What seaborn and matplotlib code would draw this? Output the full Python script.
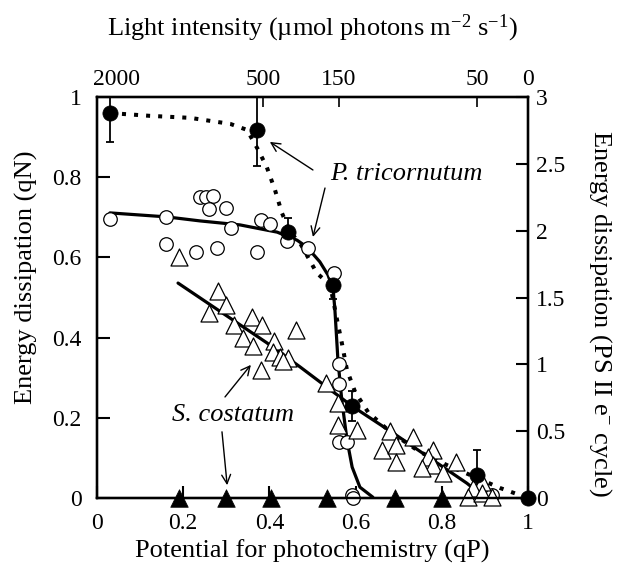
import matplotlib
matplotlib.use("Agg")
import matplotlib.pyplot as plt
import seaborn as sns
import pandas as pd

# ---- data ----
qp_filled = [0.030, 0.371, 0.443, 0.548, 0.592, 0.882, 1.0]
qn_filled = [0.960, 0.918, 0.663, 0.531, 0.229, 0.057, 0.0]
err_filled = [0.072, 0.090, 0.035, 0.035, 0.037, 0.063, 0.0]

qp_open = [0.030, 0.160, 0.160, 0.230, 0.278, 0.239, 0.253, 0.269, 0.260, 0.299, 0.311,
           0.371, 0.380, 0.401, 0.441, 0.490, 0.550, 0.561, 0.561, 0.561, 0.580, 0.592,
           0.594, 0.917]
qn_open = [0.696, 0.701, 0.633, 0.613, 0.623, 0.751, 0.751, 0.753, 0.721, 0.723, 0.673,
           0.613, 0.693, 0.683, 0.641, 0.623, 0.561, 0.334, 0.284, 0.140, 0.140, 0.007,
           0.0, 0.007]

qp_tri = [0.190, 0.281, 0.299, 0.260, 0.360, 0.383, 0.318, 0.462, 0.339, 0.411, 0.362,
          0.408, 0.425, 0.443, 0.432, 0.381, 0.531, 0.559, 0.559, 0.603, 0.680, 0.733,
          0.661, 0.694, 0.694, 0.780, 0.768, 0.780, 0.754, 0.803, 0.833, 0.893, 0.872,
          0.861, 0.893, 0.916]
qn_tri = [0.601, 0.516, 0.481, 0.461, 0.451, 0.431, 0.431, 0.419, 0.399, 0.392, 0.379,
          0.364, 0.352, 0.349, 0.342, 0.319, 0.287, 0.237, 0.182, 0.170, 0.167, 0.152,
          0.120, 0.132, 0.090, 0.120, 0.102, 0.082, 0.075, 0.062, 0.090, 0.040, 0.025,
          0.002, 0.012, 0.002]

qp_ftri = [0.190, 0.299, 0.404, 0.534, 0.691, 0.800]
qn_ftri = [0.0, 0.0, 0.0, 0.0, 0.0, 0.0]

# fitted curves
fit_dot_x = [0.030, 0.123, 0.216, 0.309, 0.348, 0.374, 0.394, 0.413, 0.429, 0.448, 0.471,
             0.510, 0.541, 0.557, 0.568, 0.580, 0.599, 0.629, 0.680, 0.749, 0.812, 0.882,
             0.935, 1.0]
fit_dot_y = [0.960, 0.953, 0.948, 0.933, 0.918, 0.868, 0.825, 0.768, 0.711, 0.663, 0.636,
             0.561, 0.531, 0.444, 0.387, 0.319, 0.264, 0.214, 0.165, 0.115, 0.082, 0.050,
             0.025, 0.0]

fit_pt_x = [0.030, 0.162, 0.239, 0.332, 0.418, 0.464, 0.487, 0.517, 0.536, 0.548, 0.552,
            0.559, 0.568, 0.580, 0.592, 0.610, 0.640]
fit_pt_y = [0.711, 0.701, 0.691, 0.681, 0.663, 0.643, 0.626, 0.589, 0.556, 0.519, 0.469,
            0.344, 0.244, 0.145, 0.077, 0.027, 0.002]

fit_sc_x = [0.188, 0.394, 0.471, 0.592, 0.687, 0.858, 0.893]
fit_sc_y = [0.536, 0.387, 0.327, 0.229, 0.162, 0.037, 0.007]

light_labels = ["2000", "500", "150", "50", "0"]
light_pos = [0.046, 0.385, 0.561, 0.882, 1.0]

x_ticks = [0, 0.2, 0.4, 0.6, 0.8, 1.0]
x_ticklabels = ["0", "0.2", "0.4", "0.6", "0.8", "1"]
y_ticks = [0, 0.2, 0.4, 0.6, 0.8, 1.0]
y_ticklabels = ["0", "0.2", "0.4", "0.6", "0.8", "1"]
y2_ticks = [0, 0.5, 1.0, 1.5, 2.0, 2.5, 3.0]
y2_ticklabels = ["0", "0.5", "1", "1.5", "2", "2.5", "3"]

# ---- style ----
sns.set_theme(style="ticks")
plt.rcParams["font.family"] = ["Liberation Serif", "DejaVu Serif"]
plt.rcParams["mathtext.fontset"] = "custom"
plt.rcParams["mathtext.rm"] = "Liberation Serif"
plt.rcParams["mathtext.it"] = "Liberation Serif:italic"
plt.rcParams["text.color"] = "black"
plt.rcParams["axes.labelcolor"] = "black"
plt.rcParams["xtick.color"] = "black"
plt.rcParams["ytick.color"] = "black"
plt.rcParams["axes.edgecolor"] = "black"
FS = 17
LFS = 19

fig = plt.figure(figsize=(6.18, 5.75), dpi=100)
ax = fig.add_axes([97 / 618, 77 / 575, 431 / 618, 401 / 575])

# curves
sns.lineplot(x=fit_dot_x, y=fit_dot_y, ax=ax, sort=False, estimator=None, color="black",
             lw=2.9, linestyle=(0, (1, 2)), zorder=2)
sns.lineplot(x=fit_pt_x, y=fit_pt_y, ax=ax, sort=False, estimator=None, color="black",
             lw=2.3, zorder=2)
sns.lineplot(x=fit_sc_x, y=fit_sc_y, ax=ax, sort=False, estimator=None, color="black",
             lw=2.3, zorder=2)

# error bars
ax.errorbar(qp_filled, qn_filled, yerr=err_filled, fmt="none", ecolor="black",
            elinewidth=1.3, capsize=3, capthick=1.3, zorder=3)

# markers
sns.scatterplot(x=qp_open, y=qn_open, ax=ax, marker="o", s=95, facecolor="white",
                edgecolor="black", linewidth=0.9, zorder=4, clip_on=False)
sns.scatterplot(x=qp_tri, y=qn_tri, ax=ax, marker="^", s=150, facecolor="white",
                edgecolor="black", linewidth=0.9, zorder=4, clip_on=False)
sns.scatterplot(x=qp_ftri, y=qn_ftri, ax=ax, marker="^", s=160, color="black",
                edgecolor="black", linewidth=0.5, zorder=5, clip_on=False)
sns.scatterplot(x=qp_filled, y=qn_filled, ax=ax, marker="o", s=120, color="black",
                edgecolor="black", linewidth=0.5, zorder=5, clip_on=False)

ax.set_xlim(0, 1)
ax.set_ylim(0, 1)
ax.set_xticks(x_ticks)
ax.set_xticklabels(x_ticklabels)
ax.set_yticks(y_ticks)
ax.set_yticklabels(y_ticklabels)
ax.tick_params(axis="both", direction="in", length=9, width=1.5, labelsize=FS, colors="black")
ax.tick_params(axis="x", pad=11)
ax.tick_params(axis="y", pad=11)
for s in ax.spines.values():
    s.set_linewidth(1.6)
    s.set_color("black")
    s.set_visible(True)

ax.set_xlabel("Potential for photochemistry (qP)", fontsize=LFS, labelpad=4, color="black")
ax.set_ylabel("Energy dissipation (qN)", fontsize=LFS, color="black")
ax.yaxis.set_label_coords(-0.137, 0.551)

# right axis
ax2 = ax.twinx()
ax2.set_ylim(0, 3)
ax2.set_yticks(y2_ticks)
ax2.set_yticklabels(y2_ticklabels)
ax2.tick_params(axis="y", direction="in", length=9, width=1.5, labelsize=FS, pad=6,
                colors="black")
ax2.set_ylabel("Energy dissipation (PS II e$^{-}$ cycle)", fontsize=LFS, rotation=-90,
               va="center", color="black")
ax2.yaxis.set_label_coords(1.167, 0.461)

# top axis
ax3 = ax.twiny()
ax3.set_xlim(0, 1)
ax3.set_xticks(light_pos)
ax3.set_xticklabels(light_labels)
ax3.tick_params(axis="x", direction="in", length=7, width=1.2, labelsize=FS, pad=5,
                colors="black")
ticks3 = ax3.xaxis.get_major_ticks()
ticks3[0].tick2line.set_visible(False)
ticks3[-1].tick2line.set_visible(False)
ax3.set_xlabel("Light intensity (µmol photons m$^{-2}$ s$^{-1}$)", fontsize=LFS, labelpad=24,
               color="black")
for a in (ax2, ax3):
    for s in a.spines.values():
        s.set_linewidth(1.6)
        s.set_color("black")

# annotations
ax.text(0.717, 0.808, "P. tricornutum", fontsize=LFS, style="italic", ha="center",
        va="center", color="black")
arrow = dict(arrowstyle="->", lw=1.0, color="black", mutation_scale=16, shrinkA=0, shrinkB=0)
ax.annotate("", xy=(0.401, 0.888), xytext=(0.501, 0.818), arrowprops=arrow)
ax.annotate("", xy=(0.501, 0.651), xytext=(0.529, 0.773), arrowprops=arrow)

ax.text(0.316, 0.207, "S. costatum", fontsize=LFS, style="italic", ha="center", va="center",
        color="black")
ax.annotate("", xy=(0.357, 0.332), xytext=(0.297, 0.252), arrowprops=arrow)
ax.annotate("", xy=(0.302, 0.032), xytext=(0.290, 0.165), arrowprops=arrow)

fig.savefig("out.png", dpi=100)
